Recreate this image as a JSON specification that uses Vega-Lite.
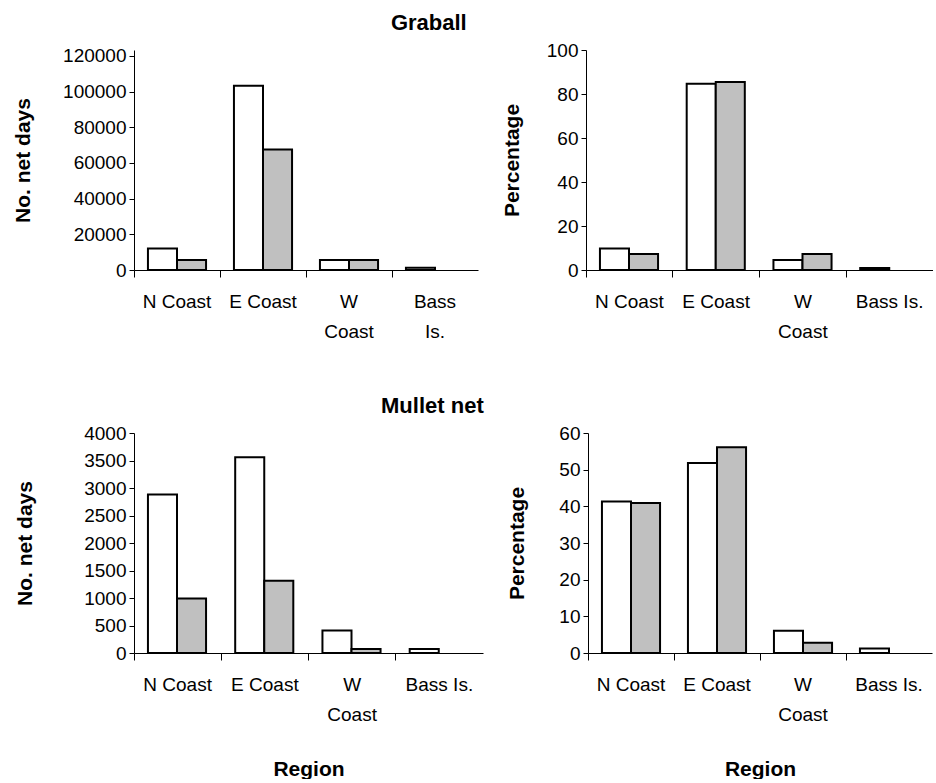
{
  "$schema": "https://vega.github.io/schema/vega-lite/v6.json",
  "background": "white",
  "padding": {"left": 12, "top": 12, "right": 0, "bottom": 0},
  "data": {"values": [
    {"panel": "TL", "region": "N Coast", "series": "S1", "value": 12000},
    {"panel": "TL", "region": "N Coast", "series": "S2", "value": 5600},
    {"panel": "TL", "region": "E Coast", "series": "S1", "value": 103300},
    {"panel": "TL", "region": "E Coast", "series": "S2", "value": 67500},
    {"panel": "TL", "region": "W Coast", "series": "S1", "value": 5600},
    {"panel": "TL", "region": "W Coast", "series": "S2", "value": 5600},
    {"panel": "TL", "region": "Bass Is.", "series": "S1", "value": 1300},
    {"panel": "TR", "region": "N Coast", "series": "S1", "value": 9.8},
    {"panel": "TR", "region": "N Coast", "series": "S2", "value": 7.3},
    {"panel": "TR", "region": "E Coast", "series": "S1", "value": 84.7},
    {"panel": "TR", "region": "E Coast", "series": "S2", "value": 85.5},
    {"panel": "TR", "region": "W Coast", "series": "S1", "value": 4.5},
    {"panel": "TR", "region": "W Coast", "series": "S2", "value": 7.3},
    {"panel": "TR", "region": "Bass Is.", "series": "S1", "value": 0.9},
    {"panel": "BL", "region": "N Coast", "series": "S1", "value": 2880},
    {"panel": "BL", "region": "N Coast", "series": "S2", "value": 990},
    {"panel": "BL", "region": "E Coast", "series": "S1", "value": 3560},
    {"panel": "BL", "region": "E Coast", "series": "S2", "value": 1315},
    {"panel": "BL", "region": "W Coast", "series": "S1", "value": 410},
    {"panel": "BL", "region": "W Coast", "series": "S2", "value": 75},
    {"panel": "BL", "region": "Bass Is.", "series": "S1", "value": 75},
    {"panel": "BR", "region": "N Coast", "series": "S1", "value": 41.3},
    {"panel": "BR", "region": "N Coast", "series": "S2", "value": 40.9},
    {"panel": "BR", "region": "E Coast", "series": "S1", "value": 51.8},
    {"panel": "BR", "region": "E Coast", "series": "S2", "value": 56.1},
    {"panel": "BR", "region": "W Coast", "series": "S1", "value": 6.1},
    {"panel": "BR", "region": "W Coast", "series": "S2", "value": 2.8},
    {"panel": "BR", "region": "Bass Is.", "series": "S1", "value": 1.2}
  ]},
  "vconcat": [
    {
      "title": {"text": "Graball", "anchor": "middle", "dx": -44, "offset": 6},
      "spacing": 23,
      "hconcat": [
        {
          "width": 344, "height": 220,
          "transform": [{"filter": "datum.panel == 'TL'"}],
          "mark": {"type": "bar"},
          "encoding": {
            "x": {"field": "region", "type": "nominal", "sort": ["N Coast", "E Coast", "W Coast", "Bass Is."],
              "scale": {"paddingInner": 0, "paddingOuter": 0},
              "axis": {"title": null, "labelAngle": 0, "bandPosition": 0, "tickSize": 7, "labelPadding": 15,
                "labelExpr": "datum.value == 'W Coast' ? ['W', 'Coast'] : datum.value == 'Bass Is.' ? ['Bass', 'Is.'] : datum.value"}},
            "xOffset": {"field": "series", "type": "nominal", "scale": {"paddingInner": 0, "paddingOuter": 0.48}},
            "y": {"field": "value", "type": "quantitative", "scale": {"domain": [0, 123364], "nice": false},
              "axis": {"title": "No. net days", "values": [0, 20000, 40000, 60000, 80000, 100000, 120000], "format": "d", "titlePadding": 29}},
            "color": {"field": "series", "type": "nominal", "scale": {"domain": ["S1", "S2"], "range": ["#ffffff", "#c0c0c0"]}, "legend": null}
          }
        },
        {
          "width": 347, "height": 220,
          "transform": [{"filter": "datum.panel == 'TR'"}],
          "mark": {"type": "bar"},
          "encoding": {
            "x": {"field": "region", "type": "nominal", "sort": ["N Coast", "E Coast", "W Coast", "Bass Is."],
              "scale": {"paddingInner": 0, "paddingOuter": 0},
              "axis": {"title": null, "labelAngle": 0, "bandPosition": 0, "tickSize": 7, "labelPadding": 15,
                "labelExpr": "datum.value == 'W Coast' ? ['W', 'Coast'] : datum.value"}},
            "xOffset": {"field": "series", "type": "nominal", "scale": {"paddingInner": 0, "paddingOuter": 0.48}},
            "y": {"field": "value", "type": "quantitative", "scale": {"domain": [0, 100], "nice": false},
              "axis": {"title": "Percentage", "values": [0, 20, 40, 60, 80, 100], "format": "d", "titlePadding": 24}},
            "color": {"field": "series", "type": "nominal", "scale": {"domain": ["S1", "S2"], "range": ["#ffffff", "#c0c0c0"]}, "legend": null}
          }
        }
      ]
    },
    {
      "title": {"text": "Mullet net", "anchor": "middle", "dx": -41, "offset": 6},
      "spacing": 23,
      "hconcat": [
        {
          "width": 349, "height": 220,
          "transform": [{"filter": "datum.panel == 'BL'"}],
          "mark": {"type": "bar"},
          "encoding": {
            "x": {"field": "region", "type": "nominal", "sort": ["N Coast", "E Coast", "W Coast", "Bass Is."],
              "scale": {"paddingInner": 0, "paddingOuter": 0},
              "axis": {"title": "Region", "titlePadding": 34, "labelAngle": 0, "bandPosition": 0, "tickSize": 7, "labelPadding": 15,
                "labelExpr": "datum.value == 'W Coast' ? ['W', 'Coast'] : datum.value"}},
            "xOffset": {"field": "series", "type": "nominal", "scale": {"paddingInner": 0, "paddingOuter": 0.48}},
            "y": {"field": "value", "type": "quantitative", "scale": {"domain": [0, 4000], "nice": false},
              "axis": {"title": "No. net days", "values": [0, 500, 1000, 1500, 2000, 2500, 3000, 3500, 4000], "format": "d", "titlePadding": 48}},
            "color": {"field": "series", "type": "nominal", "scale": {"domain": ["S1", "S2"], "range": ["#ffffff", "#c0c0c0"]}, "legend": null}
          }
        },
        {
          "width": 344, "height": 220,
          "transform": [{"filter": "datum.panel == 'BR'"}],
          "mark": {"type": "bar"},
          "encoding": {
            "x": {"field": "region", "type": "nominal", "sort": ["N Coast", "E Coast", "W Coast", "Bass Is."],
              "scale": {"paddingInner": 0, "paddingOuter": 0},
              "axis": {"title": "Region", "titlePadding": 34, "labelAngle": 0, "bandPosition": 0, "tickSize": 7, "labelPadding": 15,
                "labelExpr": "datum.value == 'W Coast' ? ['W', 'Coast'] : datum.value"}},
            "xOffset": {"field": "series", "type": "nominal", "scale": {"paddingInner": 0, "paddingOuter": 0.48}},
            "y": {"field": "value", "type": "quantitative", "scale": {"domain": [0, 60], "nice": false},
              "axis": {"title": "Percentage", "values": [0, 10, 20, 30, 40, 50, 60], "format": "d", "titlePadding": 31}},
            "color": {"field": "series", "type": "nominal", "scale": {"domain": ["S1", "S2"], "range": ["#ffffff", "#c0c0c0"]}, "legend": null}
          }
        }
      ]
    }
  ],
  "spacing": 54,
  "config": {
    "font": "Liberation Sans",
    "view": {"stroke": null},
    "axis": {"labelFont": "Liberation Sans", "labelFontSize": 19, "labelColor": "black", "domainColor": "black", "tickColor": "black",
      "titleFont": "Liberation Sans", "titleFontSize": 21, "titleFontWeight": "bold", "titleColor": "black", "grid": false,
      "labelLineHeight": 30, "labelPadding": 3, "tickSize": 5},
    "title": {"font": "Liberation Sans", "fontSize": 22, "fontWeight": "bold", "color": "black"},
    "bar": {"stroke": "black", "strokeWidth": 2}
  }
}
